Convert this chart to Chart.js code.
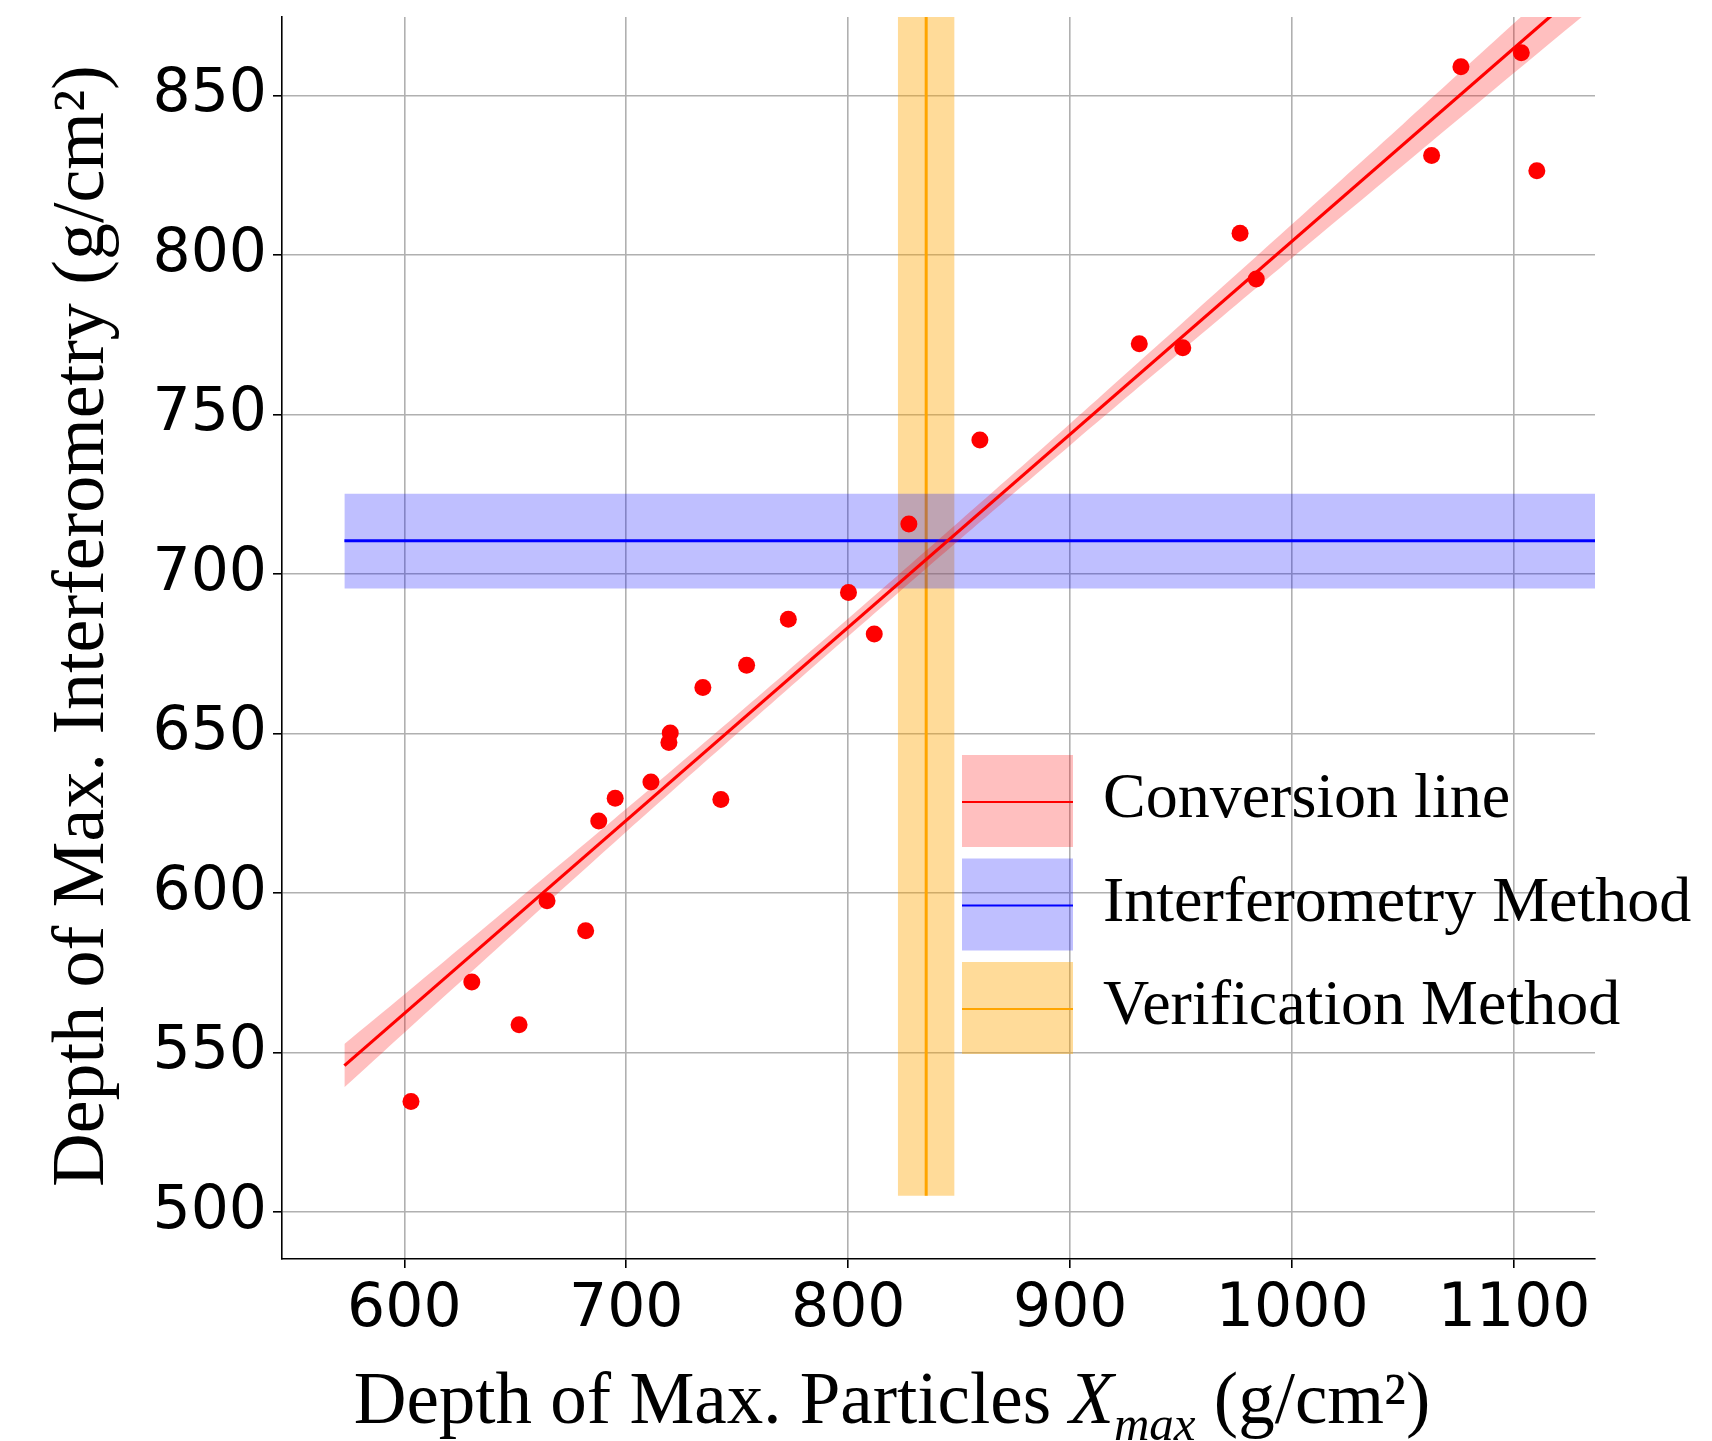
<!DOCTYPE html>
<html>
<head>
<meta charset="utf-8">
<script src="https://cdn.jsdelivr.net/npm/chart.js@4.4.0/dist/chart.umd.min.js"></script>
<style>
  body { margin: 0; background: #fff; }
  #wrap { width: 1712px; height: 1441px; }
</style>
</head>
<body>
<div id="wrap"><canvas id="chart-xmax" width="1712" height="1441"></canvas></div>
<script>
// measured points (g/cm2)
const particlesXmax = [603.0, 630.4, 651.7, 664.3, 681.7, 687.6, 695.0, 711.1, 719.2, 719.8, 734.5, 742.6, 754.2,
  773.0, 800.1, 811.7, 827.3, 859.3, 931.1, 950.7, 976.5, 983.8, 1062.8, 1076.0, 1103.2, 1110.2];
const interfXmax = [534.7, 572.1, 558.7, 597.6, 588.2, 622.6, 629.7, 634.8, 647.2, 650.2, 664.4, 629.3, 671.4,
  685.8, 694.2, 681.2, 715.7, 742.0, 772.2, 770.9, 806.8, 792.5, 831.2, 859.0, 863.4, 826.4];

// conversion line + its band
const convX = [573, 1137];
const convY = [545.9, 887.3];
const bandX = [573, 600, 650, 700, 750, 800, 850, 900, 950, 1000, 1050, 1100, 1137];
const bandUpper = [552.7, 568.2, 597.2, 626.4, 656.0, 686.1, 716.5, 747.2, 778.4, 809.7, 841.1, 872.7, 896.2];
const bandLower = [539.1, 556.2, 587.8, 619.2, 650.0, 680.5, 710.7, 740.4, 769.8, 799.1, 828.1, 857.1, 878.4];

// interferometry method (horizontal)
const interfCenter = 710.4;
const interfLow = 695.5;
const interfHigh = 725.2;
const interfSpanX = [573, 1136.4];

// verification method (vertical)
const verifCenter = 835.1;
const verifLow = 822.3;
const verifHigh = 847.9;
const verifSpanY = [505.1, 880];

const xTicks = [600, 700, 800, 900, 1000, 1100];
const yTicks = [500, 550, 600, 650, 700, 750, 800, 850];
const xRange = [544.9, 1136.4];
const yRange = [485.3, 874.6];

const legendItems = [
  { label: "Conversion line", fill: "rgba(255,0,0,0.25)", line: "#ff0000" },
  { label: "Interferometry Method", fill: "rgba(0,0,255,0.25)", line: "#0000ff" },
  { label: "Verification Method", fill: "rgba(255,165,0,0.4)", line: "#ffa500" },
];

const toPoints = (xs, ys) => xs.map((x, i) => ({ x: x, y: ys[i] }));

const serif = '"Liberation Serif", "Times New Roman", serif';

// legend with filled patches and a line through them
const patchLegend = {
  id: "patchLegend",
  afterDraw(chart) {
    const ctx = chart.ctx;
    ctx.save();
    legendItems.forEach((item, i) => {
      const top = 755 + i * 103.5;
      ctx.fillStyle = item.fill;
      ctx.fillRect(962, top, 111, 92);
      ctx.strokeStyle = item.line;
      ctx.lineWidth = 2.2;
      ctx.beginPath();
      ctx.moveTo(962, top + 47);
      ctx.lineTo(1073, top + 47);
      ctx.stroke();
      ctx.fillStyle = "#000";
      ctx.font = "64px " + serif;
      ctx.textBaseline = "alphabetic";
      ctx.textAlign = "left";
      ctx.fillText(item.label, 1103, top + 62);
    });
    ctx.restore();
  },
};

// axis titles (x one has an italic subscript)
const axisTitles = {
  id: "axisTitles",
  afterDraw(chart) {
    const ctx = chart.ctx;
    ctx.save();
    ctx.fillStyle = "#000";
    ctx.textBaseline = "alphabetic";
    ctx.textAlign = "left";

    const parts = [
      { t: "Depth of Max. Particles ", f: "73px " + serif, dy: 0 },
      { t: "X", f: "italic 73px " + serif, dy: 0 },
      { t: "max", f: "italic 49px " + serif, dy: 17 },
      { t: " (g/cm²)", f: "73px " + serif, dy: 0 },
    ];
    let total = 0;
    parts.forEach((p) => {
      ctx.font = p.f;
      p.w = ctx.measureText(p.t).width;
      total += p.w;
    });
    let x = 892 - total / 2;
    parts.forEach((p) => {
      ctx.font = p.f;
      ctx.fillText(p.t, x, 1423 + p.dy);
      x += p.w;
    });

    ctx.translate(103, 626);
    ctx.rotate(-Math.PI / 2);
    ctx.textAlign = "center";
    ctx.font = "74px " + serif;
    ctx.fillText("Depth of Max. Interferometry (g/cm²)", 0, 0);
    ctx.restore();
  },
};

const tickFont = { family: "DejaVu Sans", size: 60 };

var ctx = document.getElementById("chart-xmax").getContext("2d");
var chart = new Chart(ctx, {
  type: "line",
  plugins: [patchLegend, axisTitles],
  data: {
    datasets: [
      {
        label: "data",
        data: toPoints(particlesXmax, interfXmax),
        showLine: false,
        pointRadius: 8.5,
        pointBorderWidth: 0,
        pointBackgroundColor: "#ff0000",
        order: 0,
      },
      {
        label: "Conversion line",
        data: toPoints(convX, convY),
        borderColor: "#ff0000",
        borderWidth: 3.2,
        pointRadius: 0,
        order: 1,
      },
      {
        label: "band upper",
        data: toPoints(bandX, bandUpper),
        borderWidth: 0,
        pointRadius: 0,
        tension: 0.3,
        fill: "+1",
        backgroundColor: "rgba(255,0,0,0.25)",
        order: 2,
      },
      {
        label: "band lower",
        data: toPoints(bandX, bandLower),
        borderWidth: 0,
        pointRadius: 0,
        tension: 0.3,
        fill: false,
        order: 3,
      },
      {
        label: "Interferometry Method",
        data: toPoints(interfSpanX, [interfCenter, interfCenter]),
        borderColor: "#0000ff",
        borderWidth: 3,
        pointRadius: 0,
        order: 4,
      },
      {
        label: "interf upper",
        data: toPoints(interfSpanX, [interfHigh, interfHigh]),
        borderWidth: 0,
        pointRadius: 0,
        fill: "+1",
        backgroundColor: "rgba(0,0,255,0.25)",
        order: 5,
      },
      {
        label: "interf lower",
        data: toPoints(interfSpanX, [interfLow, interfLow]),
        borderWidth: 0,
        pointRadius: 0,
        fill: false,
        order: 6,
      },
      {
        label: "Verification Method",
        data: toPoints([verifCenter, verifCenter], verifSpanY),
        borderColor: "#ffa500",
        borderWidth: 3,
        pointRadius: 0,
        order: 7,
      },
      {
        label: "verif upper",
        data: toPoints([verifLow, verifHigh], [verifSpanY[1], verifSpanY[1]]),
        borderWidth: 0,
        pointRadius: 0,
        fill: "+1",
        backgroundColor: "rgba(255,165,0,0.4)",
        order: 8,
      },
      {
        label: "verif lower",
        data: toPoints([verifLow, verifHigh], [verifSpanY[0], verifSpanY[0]]),
        borderWidth: 0,
        pointRadius: 0,
        fill: false,
        order: 9,
      },
    ],
  },
  options: {
    responsive: false,
    animation: false,
    events: [],
    layout: {
      padding: { left: 0, top: 17, right: 117, bottom: 0 },
    },
    plugins: {
      legend: { display: false },
      tooltip: { enabled: false },
    },
    scales: {
      x: {
        type: "linear",
        min: xRange[0],
        max: xRange[1],
        afterBuildTicks: (scale) => {
          scale.ticks = xTicks.map((v) => ({ value: v }));
        },
        afterFit: (scale) => {
          scale.height = 182;
          scale.paddingLeft = 0;
          scale.paddingRight = 0;
        },
        grid: {
          color: "#b0b0b0",
          lineWidth: 1.6,
          drawTicks: true,
          tickLength: 9,
          tickColor: "#000",
          tickWidth: 1.6,
        },
        border: { display: true, color: "#000", width: 1.6 },
        ticks: {
          font: tickFont,
          color: "#000",
          padding: 6,
          maxRotation: 0,
          autoSkip: false,
          callback: (value) => String(value),
        },
      },
      y: {
        type: "linear",
        min: yRange[0],
        max: yRange[1],
        afterBuildTicks: (scale) => {
          scale.ticks = yTicks.map((v) => ({ value: v }));
        },
        afterFit: (scale) => {
          scale.width = 282;
          scale.paddingTop = 0;
          scale.paddingBottom = 0;
        },
        grid: {
          color: "#b0b0b0",
          lineWidth: 1.6,
          drawTicks: true,
          tickLength: 9,
          tickColor: "#000",
          tickWidth: 1.6,
        },
        border: { display: true, color: "#000", width: 1.6 },
        ticks: {
          font: tickFont,
          color: "#000",
          padding: 6,
          autoSkip: false,
          callback: (value) => String(value),
        },
      },
    },
  },
});
</script>
</body>
</html>
